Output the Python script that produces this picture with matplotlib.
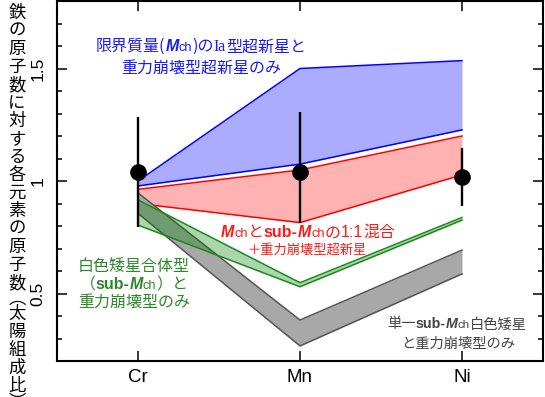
import matplotlib
matplotlib.use("Agg")
import matplotlib.pyplot as plt
from matplotlib.ticker import MultipleLocator
from matplotlib.transforms import IdentityTransform

W, H = 545, 397
CJK = "Noto Sans CJK JP"
SANS = "Liberation Sans"
SERIF = "Liberation Serif"

# Data (ratio to Fe, solar units)
elements = ["Cr", "Mn", "Ni"]
obs_ratio = [1.04, 1.04, 1.02]
obs_err_low = [0.243, 0.227, 0.129]
obs_err_high = [0.243, 0.268, 0.126]

mch_upper = [1.00, 1.50, 1.535]
mch_lower = [0.978, 1.075, 1.227]
mix_upper = [0.963, 1.049, 1.20]
mix_lower = [0.90, 0.815, 1.027]
merger_upper = [0.916, 0.548, 0.838]
merger_lower = [0.804, 0.530, 0.826]
single_upper = [0.947, 0.382, 0.693]
single_lower = [0.856, 0.267, 0.587]

ylabel_chars = list("鉄の原子数に対する各元素の原子数︵太陽組成比︶")

fig = plt.figure(figsize=(W / 100, H / 100), dpi=100)
ax = fig.add_axes([57 / W, 36 / H, 486 / W, 360 / H])
x = list(range(len(elements)))


def band(lower, upper, fill, edge, alpha, z):
  ax.fill_between(x, lower, upper, color=fill, alpha=alpha, lw=0, zorder=z)
  ax.plot(x, upper, color=edge, lw=1.1, zorder=z + 0.5)
  ax.plot(x, lower, color=edge, lw=1.1, zorder=z + 0.5)


band(mch_lower, mch_upper, "#0000ff", "#0000ff", 0.33, 1)
band(mix_lower, mix_upper, "#ff0000", "#ff0000", 0.3, 1)
band(single_lower, single_upper, "#a8a8a8", "#555555", 1.0, 2)
band(merger_lower, merger_upper, "#008000", "#1a8a1a", 0.33, 3)

ax.errorbar(x, obs_ratio, yerr=[obs_err_low, obs_err_high], fmt="o",
            color="black", ms=11, elinewidth=1.7, capsize=0, zorder=6)

ax.set_xlim(-0.5, 2.5)
ax.set_ylim(0.2, 1.8)
ax.set_xticks(x)
ax.set_xticklabels(elements, fontsize=13.5, family=SANS)
ax.set_yticks([0.5, 1.0, 1.5])
ax.set_yticklabels(["0.5", "1", "1.5"], fontsize=12.5, family=SANS,
                   rotation=90, va="center")
ax.yaxis.set_minor_locator(MultipleLocator(0.1))
ax.tick_params(direction="in", top=True, right=True, length=7, width=1.1)
ax.tick_params(axis="y", which="minor", direction="in", right=True,
               length=3.6, width=1.1)
ax.tick_params(axis="y", pad=8.5)
ax.tick_params(axis="x", pad=6)
for s in ax.spines.values():
  s.set_linewidth(1.5)

# vertical Japanese y label
yy = 13
for ch in ylabel_chars:
  step = 15 if ch in "︵︶" else 18
  if ch in "︵︶":
    yy -= 2
  fig.text(17, H - yy, ch, transform=IdentityTransform(), family=CJK,
           fontsize=12.5, ha="center", va="center")
  yy += step

renderer = fig.canvas.get_renderer()


def rich_line(xc, yc, chunks, color, size):
  arts = []
  for s, fam, kw in chunks:
    scale = kw.pop("scale", 1.0)
    t = fig.text(0, 0, s, transform=IdentityTransform(), family=fam,
                 fontsize=size * scale, color=color, va="baseline",
                 ha="left", **kw)
    arts.append(t)
  widths = [t.get_window_extent(renderer).width for t in arts]
  x0 = xc - sum(widths) / 2
  yb = H - (yc + 0.38 * size * 1.389)
  for t, w in zip(arts, widths):
    t.set_position((x0, yb))
    x0 += w


def mch(bold_ch=False):
  return [("M", SANS, {"weight": "bold", "style": "italic"}),
          ("ch", SANS, {"weight": "bold" if bold_ch else "normal",
                        "scale": 0.8})]


blue = "#1a1aff"
rich_line(201, 45, [("限界質量(", CJK, {})] + mch() +
          [(")の", CJK, {}), ("Ia", SERIF, {}), ("型超新星と", CJK, {})],
          blue, 11.5)
rich_line(201, 67, [("重力崩壊型超新星のみ", CJK, {})], blue, 11.5)

red = "#ff1a1a"
rich_line(308, 231, mch() + [("と", CJK, {}), ("sub-", SANS, {"weight": "bold"})]
          + mch() + [("の", CJK, {}), ("1:1", SANS, {}), ("混合", CJK, {})],
          red, 11.5)
rich_line(307, 249, [("＋重力崩壊型超新星", CJK, {})], red, 9.5)

green = "#2a8a2a"
rich_line(134, 265, [("白色矮星合体型", CJK, {})], green, 11.5)
rich_line(134, 283, [("（", CJK, {}), ("sub-", SANS, {"weight": "bold"})]
          + mch() + [("）と", CJK, {})], green, 11.5)
rich_line(134, 302, [("重力崩壊型のみ", CJK, {})], green, 11.5)

gray = "#444444"
rich_line(457, 323, [("単一", CJK, {}), ("sub-", SANS, {"weight": "bold"})]
          + mch() + [("白色矮星", CJK, {})], gray, 10.3)
rich_line(458, 342, [("と重力崩壊型のみ", CJK, {})], gray, 10.3)

fig.savefig("out.png", dpi=100)
